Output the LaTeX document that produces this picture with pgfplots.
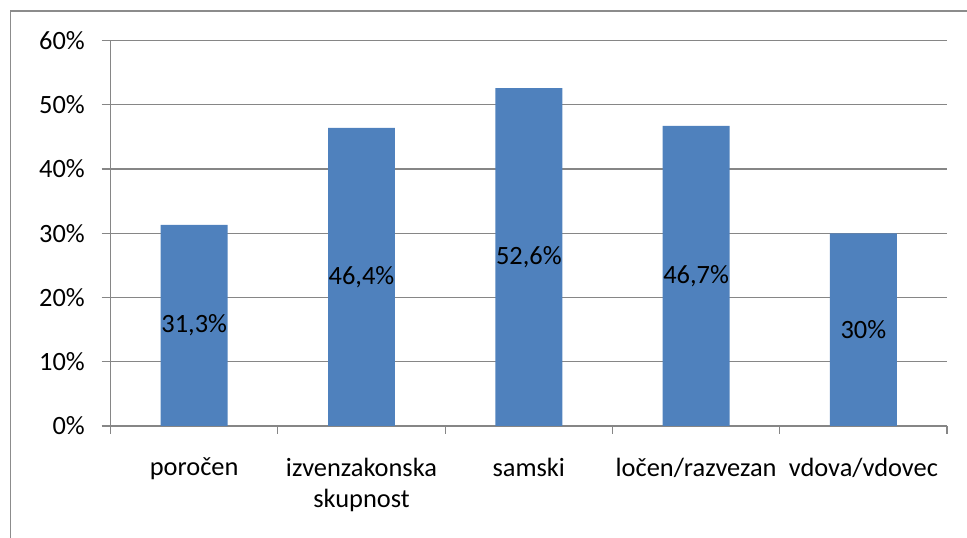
\documentclass[border=0pt]{standalone}
\usepackage{pgfplots}
\pgfplotsset{compat=1.18}
\usepackage{fontspec}
\setmainfont{Carlito}
\definecolor{barblue}{HTML}{4F81BD}
\definecolor{gridgray}{HTML}{868686}
\definecolor{bordergray}{HTML}{8C8C8C}
\pgfplotstableread{
x y
0 31.3
1 46.4
2 52.6
3 46.7
4 30
}\data
\begin{document}
\begin{tikzpicture}[font=\fontsize{19.8}{23.8}\selectfont]
\useasboundingbox (0,0) rectangle (725.25pt,403.5pt);
\draw[bordergray, line width=0.8pt] (7.9pt,-20pt) -- (7.9pt,395.25pt) -- (760pt,395.25pt);
\begin{axis}[
  at={(82.9pt,84pt)}, anchor=south west,
  scale only axis, width=627.4pt, height=289.1pt,
  xmin=-0.5, xmax=4.5, ymin=0, ymax=60,
  axis x line*=bottom, axis y line*=left,
  axis line style={gridgray, line width=0.9pt},
  ybar, bar width=0.4, bar shift=0pt,
  xtick={0,1,2,3,4},
  xticklabels={poročen, {izvenzakonska\\skupnost}, samski, ločen/razvezan, vdova/vdovec},
  xticklabel style={align=center, anchor=north, text=black, yshift=-13.5pt},
  yticklabel style={text=black, xshift=-9pt},
  major x tick style={draw=none},
  minor xtick={-0.5,0.5,1.5,2.5,3.5,4.5},
  minor x tick style={gridgray, line width=0.9pt},
  minor tick length=6pt,
  tick align=outside,
  ytick={0,10,20,30,40,50,60},
  yticklabels={0\%,10\%,20\%,30\%,40\%,50\%,60\%},
  major tick length=6.75pt,
  y tick style={gridgray, line width=0.9pt},
  ymajorgrids, major grid style={gridgray, line width=0.9pt},
  /pgf/number format/assume math mode=true,
  nodes near coords={\pgfmathprintnumber[use comma, fixed, precision=1]{\pgfplotspointmeta}\%},
  visualization depends on={y \as \rawy},
  every node near coord/.append style={anchor=center, text=black, shift={(axis direction cs:0,-\rawy/2)}},
  clip=false,
]
\addplot[fill=barblue, draw=none] table[x=x, y=y] {\data};
\end{axis}
\end{tikzpicture}
\end{document}
